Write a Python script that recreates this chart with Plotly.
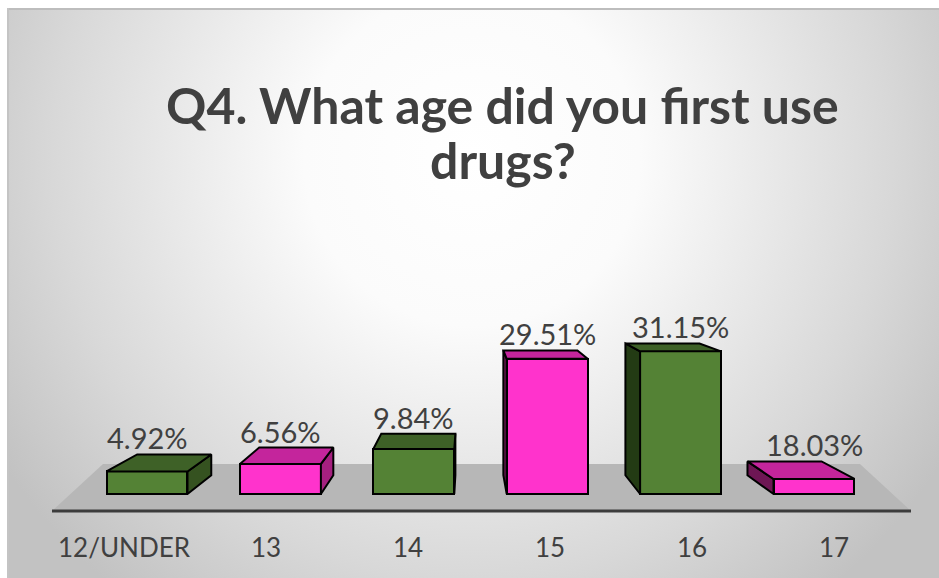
import base64
import plotly.graph_objects as go

# ---------------- data ----------------
categories = ["12/UNDER", "13", "14", "15", "16", "17"]
label_values = [4.92, 6.56, 9.84, 29.51, 31.15, 18.03]   # printed labels
bar_values = [4.92, 6.56, 9.84, 29.51, 31.15, 3.28]      # bar heights as drawn in the picture
front_colors = ["#548235", "#ff33cc", "#548235", "#ff33cc", "#548235", "#ff33cc"]
top_colors = ["#3e6127", "#c4259c", "#3e6127", "#c4259c", "#3e6127", "#c4259c"]
right_side_colors = ["#355220", "#a5207f", "#355220", "#a5207f", "#355220", "#a5207f"]
left_side_colors = ["#233b14", "#6e1654", "#233b14", "#6e1654", "#233b14", "#6e1654"]
title_lines = ["Q4. What age did you first use", "drugs?"]

# ---------------- geometry / layout ----------------
W, H = 939, 578
ML, MR, MT, MB = 52, 28, 300, 58
PX_PER_X = 133.4          # pixels per category step
X0_PX = 147               # pixel of first bar centre
PX_PER_Y = 4.58           # pixels per percent
Y0_PX = 494               # pixel of value 0
BAR_W = 0.607
VP_X, KX = 2.4, 0.085     # horizontal vanishing point / depth factor
BACK_DV0, BACK_SY = 4.09, 0.924

x_rng = [(ML - X0_PX) / PX_PER_X, (W - MR - X0_PX) / PX_PER_X]
y_rng = [-(H - MB - Y0_PX) / PX_PER_Y, (Y0_PX - MT) / PX_PER_Y]

LBL_X0_PX, LBL_STEP = 124, 142
x2_rng = [(ML - LBL_X0_PX) / LBL_STEP, (W - MR - LBL_X0_PX) / LBL_STEP]

pw, ph = W - ML - MR, H - MT - MB


def paper_x(px):
    return (px - ML) / pw


def paper_y(py):
    return (H - MB - py) / ph


def back_x(x):
    return x + (VP_X - x) * KX


def back_v(v):
    return BACK_DV0 + BACK_SY * v


fig = go.Figure()

xs = list(range(len(categories)))

# side and top faces
for i, (x, h) in enumerate(zip(xs, bar_values)):
    xl, xr = x - BAR_W / 2, x + BAR_W / 2
    bxl, bxr = back_x(xl), back_x(xr)
    bh, b0 = back_v(h), back_v(0)
    if bxr > xr:  # right side visible
        fig.add_trace(go.Scatter(
            x=[xr, xr, bxr, bxr, xr], y=[0, h, bh, b0, 0],
            mode="lines", fill="toself", fillcolor=right_side_colors[i],
            line=dict(color="#000000", width=2), hoverinfo="skip", showlegend=False))
    if bxl < xl:  # left side visible
        fig.add_trace(go.Scatter(
            x=[xl, xl, bxl, bxl, xl], y=[0, h, bh, b0, 0],
            mode="lines", fill="toself", fillcolor=left_side_colors[i],
            line=dict(color="#000000", width=2), hoverinfo="skip", showlegend=False))
    fig.add_trace(go.Scatter(
        x=[xl, xr, bxr, bxl, xl], y=[h, h, bh, bh, h],
        mode="lines", fill="toself", fillcolor=top_colors[i],
        line=dict(color="#000000", width=2), hoverinfo="skip", showlegend=False))

# front faces
fig.add_trace(go.Bar(
    x=xs, y=bar_values, width=BAR_W,
    marker=dict(color=front_colors, line=dict(color="#000000", width=2)),
    hoverinfo="skip", showlegend=False))

# category labels on a second x axis (perspective spread)
fig.add_trace(go.Scatter(x=xs, y=[None] * len(xs), xaxis="x2", mode="markers",
                         hoverinfo="skip", showlegend=False))

# data labels
for x, h, lv in zip(xs, bar_values, label_values):
    fig.add_annotation(
        x=x, y=back_v(h), xref="x", yref="y", text=f"{lv:.2f}%",
        showarrow=False, yanchor="bottom", yshift=-3,
        font=dict(family="Lato", size=29, color="#404040"))

# floor
floor_front_v = -(511 - Y0_PX) / PX_PER_Y
floor_back_v = (Y0_PX - 464) / PX_PER_Y
ffl, ffr = x_rng
fbl, fbr = (103 - X0_PX) / PX_PER_X, (860 - X0_PX) / PX_PER_X
fig.add_shape(type="path", layer="below", xref="x", yref="y",
              path=f"M {ffl},{floor_front_v} L {ffr},{floor_front_v} L {fbr},{floor_back_v} L {fbl},{floor_back_v} Z",
              fillcolor="#b7b7b7", line=dict(width=0))
fig.add_shape(type="line", layer="below", xref="x", yref="y",
              x0=ffl, x1=ffr, y0=floor_front_v, y1=floor_front_v,
              line=dict(color="#3c3c3c", width=3))

# background panel (radial gradient)
PX0, PY0 = 7, 8
bw, bhh = W - PX0, H - PY0
svg = (f"<svg xmlns='http://www.w3.org/2000/svg' width='{bw}' height='{bhh}' viewBox='0 0 {bw} {bhh}' preserveAspectRatio='none'>"
       "<defs><radialGradient id='g' gradientUnits='userSpaceOnUse' cx='465' cy='150' r='560'>"
       "<stop offset='0' stop-color='#ffffff'/><stop offset='0.3' stop-color='#fbfbfb'/>"
       "<stop offset='0.75' stop-color='#d8d8d8'/><stop offset='1' stop-color='#c2c2c2'/></radialGradient></defs>"
       f"<rect width='{bw}' height='{bhh}' fill='url(#g)'/>"
       f"<line x1='0' y1='1' x2='{bw}' y2='1' stroke='#bdbdbd' stroke-width='2'/>"
       f"<line x1='1' y1='0' x2='1' y2='{bhh}' stroke='#c4c4c4' stroke-width='2'/></svg>")
src = "data:image/svg+xml;base64," + base64.b64encode(svg.encode()).decode()
fig.add_layout_image(dict(source=src, xref="paper", yref="paper",
                          x=paper_x(PX0), y=paper_y(PY0),
                          sizex=bw / pw, sizey=bhh / ph,
                          xanchor="left", yanchor="top", sizing="stretch", layer="below"))

# title (two lines, placed separately)
for line, (cx, cy) in zip(title_lines, [(502, 105), (503, 160)]):
    fig.add_annotation(xref="paper", yref="paper", x=paper_x(cx), y=paper_y(cy),
                       xanchor="center", yanchor="middle", showarrow=False,
                       text=f"<b>{line}</b>",
                       font=dict(family="Lato", size=50, color="#404040"))

fig.update_layout(
    width=W, height=H, autosize=False,
    margin=dict(l=ML, r=MR, t=MT, b=MB, pad=0),
    paper_bgcolor="#ffffff", plot_bgcolor="rgba(0,0,0,0)",
    bargap=0,
    xaxis=dict(range=x_rng, showgrid=False, zeroline=False, showticklabels=False,
               showline=False, fixedrange=True),
    xaxis2=dict(range=x2_rng, overlaying="x", anchor="y", side="bottom",
                tickmode="array", tickvals=xs, ticktext=categories,
                ticks="outside", ticklen=5, tickcolor="rgba(0,0,0,0)",
                showgrid=False, zeroline=False, showline=False,
                tickfont=dict(family="Lato", size=26, color="#404040")),
    yaxis=dict(range=y_rng, showgrid=False, zeroline=False, showticklabels=False,
               showline=False, fixedrange=True),
    showlegend=False,
)

fig.write_html("out.html")
